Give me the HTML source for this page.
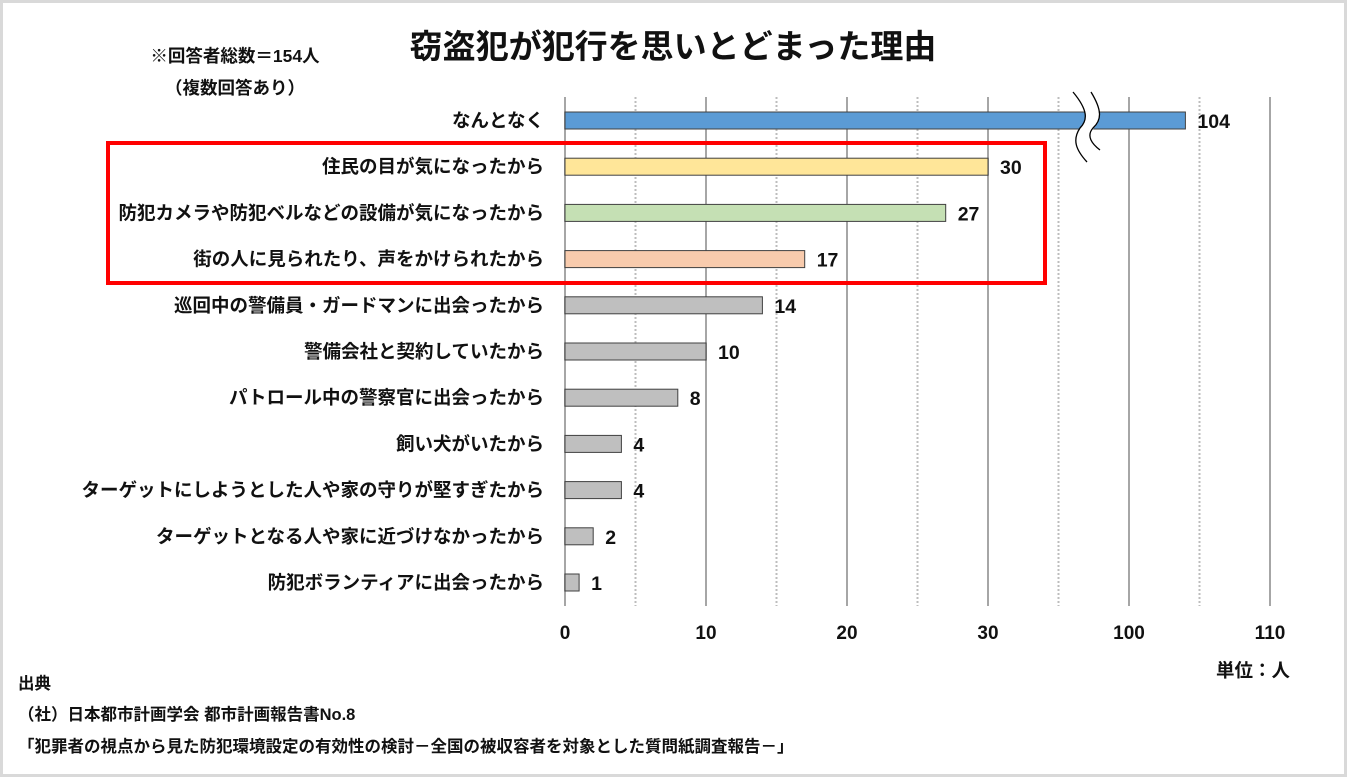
<!DOCTYPE html>
<html><head><meta charset="utf-8"><style>
html,body{margin:0;padding:0;background:#fff}
svg{display:block;font-family:"Liberation Sans","Noto Sans CJK JP",sans-serif;font-weight:bold}
</style></head><body>
<svg width="1347" height="777" viewBox="0 0 1347 777">
<rect x="1.5" y="1.5" width="1344" height="774" fill="#fff" stroke="#d9d9d9" stroke-width="3"/>
<text x="673" y="58" font-size="33" text-anchor="middle" fill="#111">窃盗犯が犯行を思いとどまった理由</text>
<text x="235" y="62" font-size="17.5" text-anchor="middle" fill="#111">※回答者総数＝154人</text>
<text x="235" y="94" font-size="17.5" text-anchor="middle" fill="#111">（複数回答あり）</text>
<g id="grid"></g>
<g id="bars"></g>
<g id="brk">
<path d="M1073,92 C1088,110 1088,120 1080,128 C1072,140 1076,150 1087,162 L1101,162 C1090,150 1086,140 1094,128 C1102,120 1102,110 1087,92 Z" fill="#fff"/>
<path d="M1073,92 C1088,110 1088,120 1080,128 C1072,140 1076,150 1087,162" fill="none" stroke="#000" stroke-width="1.3"/>
<path d="M1091,92 C1102,110 1102,120 1093,128 C1086,136 1092,144 1100,150" fill="none" stroke="#000" stroke-width="1.3"/>
</g>
<rect x="108" y="143" width="937" height="140" fill="none" stroke="#ff0000" stroke-width="4"/>
<g id="ticks"></g>
<text x="1290" y="677" font-size="18.5" text-anchor="end" fill="#111">単位：人</text>
<text x="18" y="689" font-size="16.5" fill="#111">出典</text>
<text x="18" y="720" font-size="16.5" fill="#111">（社）日本都市計画学会 都市計画報告書No.8</text>
<text x="18" y="752" font-size="16.5" fill="#111">「犯罪者の視点から見た防犯環境設定の有効性の検討－全国の被収容者を対象とした質問紙調査報告－」</text>
</svg>
<script>
const categories=["なんとなく","住民の目が気になったから","防犯カメラや防犯ベルなどの設備が気になったから","街の人に見られたり、声をかけられたから","巡回中の警備員・ガードマンに出会ったから","警備会社と契約していたから","パトロール中の警察官に出会ったから","飼い犬がいたから","ターゲットにしようとした人や家の守りが堅すぎたから","ターゲットとなる人や家に近づけなかったから","防犯ボランティアに出会ったから"];
const values=[104,30,27,17,14,10,8,4,4,2,1];
const colors=["#5b9bd5","#ffe699","#c5e0b4","#f8cbad","#bfbfbf","#bfbfbf","#bfbfbf","#bfbfbf","#bfbfbf","#bfbfbf","#bfbfbf"];
const tickValues=[0,10,20,30,100,110];
const gridValues=[0,5,10,15,20,25,30,35,100,105,110];
const NS="http://www.w3.org/2000/svg";
function xs(v){const u=v<=40?v:v-60;return 565+14.1*u;}
function ys(i){return 120+46.2*i;}
function mk(t,a){const e=document.createElementNS(NS,t);for(const k in a)e.setAttribute(k,a[k]);return e;}
const grid=document.getElementById('grid');
gridValues.forEach(v=>{const solid=v%10===0;
const l=mk('line',{x1:xs(v),x2:xs(v),y1:97,y2:606,stroke:solid?'#a6a6a6':'#bdbdbd','stroke-width':2,'stroke-dasharray':solid?'none':'2,2'});


grid.appendChild(l);});
const tk=document.getElementById('ticks');
tickValues.forEach(v=>{const t=mk('text',{x:xs(v),y:639,'font-size':19,'text-anchor':'middle',fill:'#111'});t.textContent=v;


tk.appendChild(t);});
const bars=document.getElementById('bars');
values.forEach((v,i)=>{const y=ys(i);
const r=mk('rect',{x:565,y:y-8,width:xs(v)-565,height:17,fill:colors[i],stroke:'#404040','stroke-width':1});


bars.appendChild(r);
const c=mk('text',{x:544,y:y+7,'font-size':18.5,'text-anchor':'end',fill:'#111'});c.textContent=categories[i];


bars.appendChild(c);
const vl=mk('text',{x:xs(v)+12,y:y+8,'font-size':19.5,fill:'#111'});vl.textContent=v;


bars.appendChild(vl);});
</script>
</body></html>
